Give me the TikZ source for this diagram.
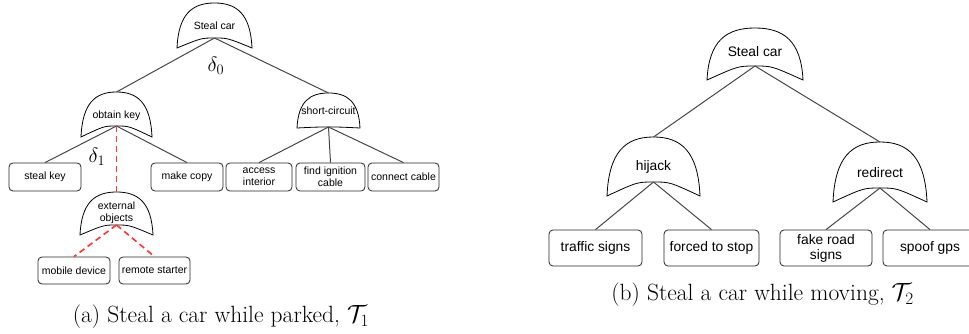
\documentclass[tikz,border=0pt]{standalone}
\usepackage{fontspec}
\setsansfont{Liberation Sans}
\begin{document}
\begin{tikzpicture}[x=1pt,y=-1pt,
  gateline/.style={draw=black,line width=0.8pt,fill=white},
  gatetext/.style={font=\sffamily\fontsize{10.5}{12}\selectfont,align=center,inner sep=0pt},
  leaf/.style={draw=black!85,line width=0.8pt,rounded corners=4pt,fill=white,
    font=\sffamily\fontsize{10.5}{12}\selectfont,align=center,inner sep=0pt},
  conn/.style={draw=black!72,line width=1pt},
  redconn/.style={draw=red!80!white,line width=1.6pt,dash pattern=on 6pt off 4pt},
  deltalabel/.style={font=\fontsize{20}{24}\selectfont,inner sep=0pt},
  caption/.style={font=\fontsize{23.5}{28}\selectfont,inner sep=0pt}]

\useasboundingbox (0,0) rectangle (969,334);

% #1 name, #2 centre x, #3 top y, #4 corner y, #5 notch y, #6 half width, #7 text y, #8 text
\newcommand\gate[8]{%
  \begin{scope}[shift={(#2,#3)}]
    \pgfmathsetmacro\gh{#4-#3}
    \pgfmathsetmacro\gn{#5-#3}
    \draw[gateline] (-#6,\gh)
      .. controls (-0.96*#6,0.25*\gh) and (-0.6*#6,0) .. (0,0)
      .. controls (0.6*#6,0) and (0.96*#6,0.25*\gh) .. (#6,\gh)
      .. controls (0.35*#6,\gn) .. (0,\gn)
      .. controls (-0.35*#6,\gn) .. (-#6,\gh) -- cycle;
    \coordinate (#1-top) at (0,0);
    \coordinate (#1-in) at (0,\gn);
    \pgfmathsetmacro\gt{#7-#3}
    \node[gatetext] (#1) at (0,\gt) {#8};
  \end{scope}}

% ---------- (a) parked ----------
\gate{lroot}{214.5}{3}{48}{38}{37.5}{26}{Steal car}
\gate{okey}{116.5}{92}{137}{126}{35.5}{116}{obtain key}
\gate{short}{328.5}{93}{128}{127}{31.5}{111}{short-circuit}
\gate{ext}{116.5}{192}{235}{225}{36.5}{213}{external\\objects}

\node[leaf,minimum width=72pt,minimum height=28pt] (skey) at (45,177) {steal key};
\node[leaf,minimum width=72pt,minimum height=28pt] (mcopy) at (187,177) {make copy};
\node[leaf,minimum width=66pt,minimum height=28pt] (acc) at (259,177) {access\\interior};
\node[leaf,minimum width=69pt,minimum height=28pt] (find) at (330.5,177) {find ignition\\cable};
\node[leaf,minimum width=71pt,minimum height=28pt] (conncab) at (403.5,177) {connect cable};
\node[leaf,minimum width=72pt,minimum height=27pt] (mob) at (74,270.5) {mobile device};
\node[leaf,minimum width=71pt,minimum height=27pt] (rem) at (154.5,270.5) {remote starter};

\draw[conn] (lroot-in) -- (okey-top);
\draw[conn] (lroot-in) -- (short-top);
\draw[conn] (okey-in) -- (skey.north);
\draw[conn] (okey-in) -- (mcopy.north);
\draw[conn] (short-in) -- (acc.north);
\draw[conn] (short-in) -- (find.north);
\draw[conn] (short-in) -- (conncab.north);
\draw[redconn] (okey-in) -- (ext-top);
\draw[redconn] (ext-in) -- (mob.north);
\draw[redconn] (ext-in) -- (rem.north);

\node[deltalabel] (d0) at (216,66) {$\delta_0$};
\node[deltalabel] (d1) at (97,157) {$\delta_1$};

\node[caption] (capa) at (221,317) {(a) Steal a car while parked, $\mathcal{T}_1$};

% ---------- (b) moving ----------
\begin{scope}[gatetext/.style={font=\sffamily\fontsize{13.8}{16}\selectfont,align=center,inner sep=0pt},
  leaf/.append style={font=\sffamily\fontsize{13.8}{15}\selectfont}]
\gate{rroot}{755}{28}{80}{66}{48}{52}{Steal car}
\gate{hijack}{653.5}{137}{196}{182}{46.5}{167}{hijack}
\gate{redir}{880}{142}{202}{188}{47}{173}{redirect}

\node[leaf,minimum width=93pt,minimum height=36pt] (traf) at (595.5,248) {traffic signs};
\node[leaf,minimum width=95pt,minimum height=36pt] (forced) at (711.5,248) {forced to stop};
\node[leaf,minimum width=92pt,minimum height=36pt] (fake) at (826,248) {fake road\\signs};
\node[leaf,minimum width=94pt,minimum height=36pt] (spoof) at (930,248) {spoof gps};

\draw[conn] (rroot-in) -- (hijack-top);
\draw[conn] (rroot-in) -- (redir-top);
\draw[conn] (hijack-in) -- (traf.north);
\draw[conn] (hijack-in) -- (forced.north);
\draw[conn] (redir-in) -- (fake.north);
\draw[conn] (redir-in) -- (spoof.north);
\end{scope}

\node[caption] (capb) at (762.5,295) {(b) Steal a car while moving, $\mathcal{T}_2$};
\end{tikzpicture}
\end{document}
